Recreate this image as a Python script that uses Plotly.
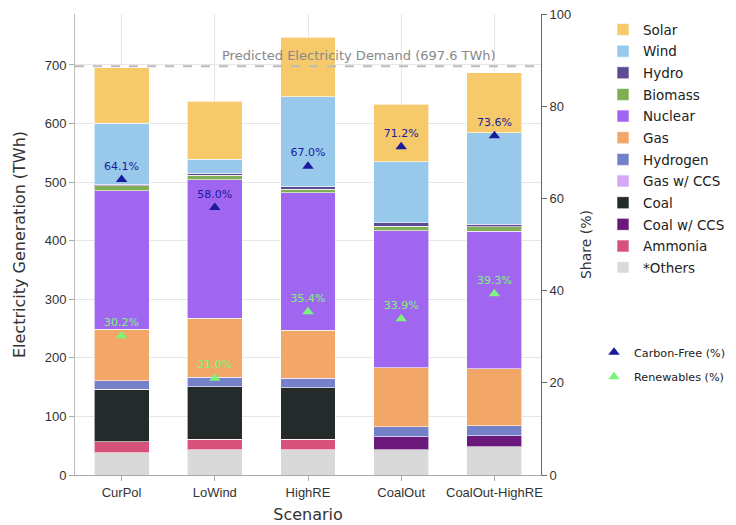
import plotly.graph_objects as go

scenarios = ["CurPol", "LoWind", "HighRE", "CoalOut", "CoalOut-HighRE"]

# Stacked from bottom to top
others = [38, 43, 43, 43, 48]
ammonia = [19, 18, 18, 0, 0]
coal_ccs = [0, 0, 0, 22, 19]
coal = [89, 90, 88, 0, 0]
gas_ccs = [0, 0, 0, 0, 0]
hydrogen = [15, 16, 16, 17, 17]
gas = [88, 101, 82, 101, 97]
nuclear = [236, 236, 235, 234, 235]
biomass = [8.5, 8, 6, 8, 8]
hydro = [3, 3, 4, 6, 4.5]
wind = [104, 24, 154, 104, 156]
solar = [95, 99, 101, 98, 102]

carbon_free = [64.1, 58.0, 67.0, 71.2, 73.6]
renewables = [30.2, 21.0, 35.4, 33.9, 39.3]

demand = 697.6

series = [
    ("*Others", others, "#D9D9D9"),
    ("Ammonia", ammonia, "#D6527A"),
    ("Coal w/ CCS", coal_ccs, "#6B1A7B"),
    ("Coal", coal, "#252B2A"),
    ("Gas w/ CCS", gas_ccs, "#D8A6F6"),
    ("Hydrogen", hydrogen, "#7480C7"),
    ("Gas", gas, "#F2A667"),
    ("Nuclear", nuclear, "#A066F0"),
    ("Biomass", biomass, "#80AE55"),
    ("Hydro", hydro, "#5E4A93"),
    ("Wind", wind, "#98C9EA"),
    ("Solar", solar, "#F6CA6B"),
]

BASE = "DejaVu Sans, Verdana, sans-serif"
TICK = "Liberation Sans, Arial, sans-serif"

fig = go.Figure()
for i, (name, vals, col) in enumerate(series):
    fig.add_trace(go.Bar(
        x=scenarios, y=vals, name=name, legendgroup=name,
        legendrank=100 * (len(series) - i),
        marker=dict(color=col, line=dict(color="rgba(255,255,255,0.6)", width=1)),
        legend="legend",
    ))

fig.add_trace(go.Scatter(
    x=scenarios, y=carbon_free, yaxis="y2", mode="markers+text",
    name="Carbon-Free (%)",
    marker=dict(symbol="triangle-up", size=10, color="#1A1A9C"),
    text=[f"{v:.1f}%" for v in carbon_free], textposition="top center",
    textfont=dict(color="#1A1A9C", size=11, family=BASE),
    legend="legend2",
))
fig.add_trace(go.Scatter(
    x=scenarios, y=renewables, yaxis="y2", mode="markers+text",
    name="Renewables (%)",
    marker=dict(symbol="triangle-up", size=10, color="#7CF47C"),
    text=[f"{v:.1f}%" for v in renewables], textposition="top center",
    textfont=dict(color="#7CF47C", size=11, family=BASE),
    legend="legend3",
))

fig.add_shape(type="line", xref="paper", x0=0, x1=1, yref="y", y0=demand, y1=demand,
              line=dict(color="#BBBBBB", width=2, dash="dash"))
fig.add_annotation(xref="paper", x=0.908, yref="y", y=demand, xanchor="right", yanchor="bottom",
                   text=f"Predicted Electricity Demand ({demand} TWh)", showarrow=False,
                   font=dict(size=13, color="#888888", family=BASE), yshift=1)

fig.update_layout(
    width=728, height=517,
    barmode="stack", bargap=0.41,
    plot_bgcolor="white", paper_bgcolor="white",
    font=dict(family=BASE, color="#333333", size=14),
    margin=dict(l=67, r=195, t=6, b=50, autoexpand=False),
    xaxis=dict(
        title=dict(text="Scenario", font=dict(size=16), standoff=10),
        showgrid=True, gridcolor="#E6E6E6", showline=True, linecolor="#AAAAAA",
        ticks="outside", tickcolor="#AAAAAA", ticklen=5, automargin=False,
        tickfont=dict(family=TICK, size=13, color="#333333"),
    ),
    yaxis=dict(
        title=dict(text="Electricity Generation (TWh)", font=dict(size=16), standoff=15),
        range=[0, 787], showgrid=True, gridcolor="#E6E6E6", showline=True, linecolor="#BBBBBB",
        ticks="outside", tickcolor="#AAAAAA", ticklen=5, zeroline=False, automargin=False,
        tickfont=dict(family=TICK, size=13, color="#333333"),
    ),
    yaxis2=dict(
        title=dict(text="Share (%)", font=dict(size=14), standoff=10),
        overlaying="y", side="right", range=[0, 100], showgrid=False, automargin=False,
        showline=True, linecolor="#666666", ticks="outside", tickcolor="#666666", ticklen=5,
        tickfont=dict(family=TICK, size=13, color="#333333"), zeroline=False,
        ticklabeloverflow="allow",
    ),
    legend=dict(xref="container", yref="container", x=595 / 728, y=0.988,
                xanchor="left", yanchor="top", traceorder="grouped",
                tracegroupgap=1.1,
                font=dict(size=13.5, color="#222222"), bgcolor="rgba(0,0,0,0)"),
    legend2=dict(xref="container", yref="container", x=586 / 728, y=0.362,
                 xanchor="left", yanchor="top",
                 font=dict(size=11.2, color="#222222"), bgcolor="rgba(0,0,0,0)"),
    legend3=dict(xref="container", yref="container", x=586 / 728, y=0.315,
                 xanchor="left", yanchor="top",
                 font=dict(size=11.2, color="#222222"), bgcolor="rgba(0,0,0,0)"),
)

fig.write_html("out.html")
